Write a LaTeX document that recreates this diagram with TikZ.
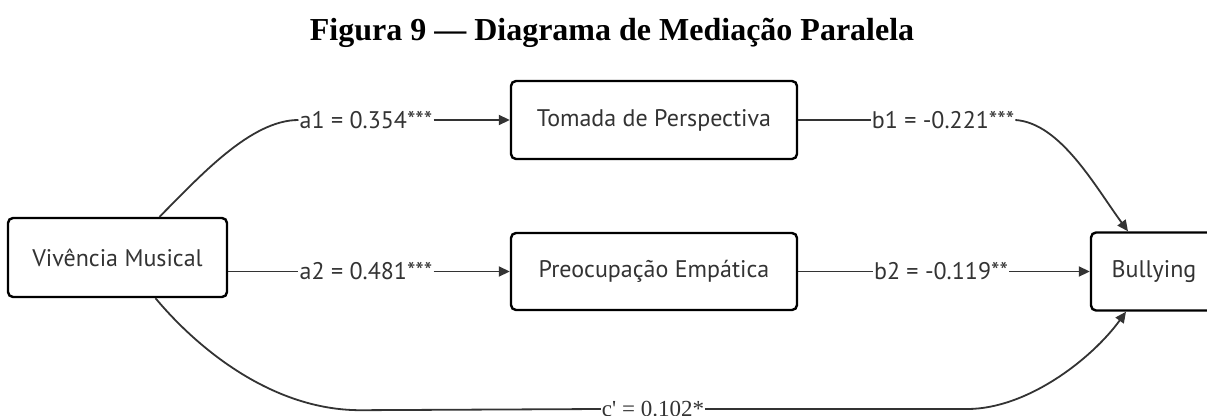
\documentclass[tikz,border=0pt]{standalone}
\usepackage{fontspec}
\setmainfont{Liberation Serif}
\setsansfont{PT Sans}
\newfontfamily\primefont{Liberation Serif}
\usetikzlibrary{arrows.meta}
\definecolor{inkgray}{HTML}{333333}

\begin{document}
\begin{tikzpicture}[x=1pt, y=-1pt,
    every node/.style={font=\sffamily\fontsize{24}{28}\selectfont, text=inkgray},
    box/.style={draw=black, line width=2.4pt, rounded corners=5pt, fill=white, minimum height=78pt},
    lbl/.style={fill=white, inner sep=1pt},
    edge/.style={draw=inkgray, line width=1.8pt},
    arr/.style={edge, -{Triangle[length=11pt,width=10pt]}}]
    \useasboundingbox (0,0) rectangle (1207,415);
    \node[font=\rmfamily\bfseries\fontsize{32}{36}\selectfont, text=black, anchor=base] (title) at (612,40) {Figura 9 — Diagrama de Mediação Paralela};
    % variaveis
    \node[box, minimum width=219pt, minimum height=79pt] (vm) at (117.5,257.5) {Vivência Musical};
    \node[box, minimum width=286pt] (tp) at (654,120) {Tomada de Perspectiva};
    \node[box, minimum width=286pt, minimum height=77pt] (pe) at (654,271.5) {Preocupação Empática};
    \node[box, minimum width=126pt] (bu) at (1154,271.5) {Bullying};
    % coeficientes
    \node[lbl] (la1) at (366,120) {a1 = 0.354***};
    \node[lbl] (la2) at (366,271.5) {a2 = 0.481***};
    \node[lbl] (lb1) at (943,120) {b1 = -0.221***};
    \node[lbl] (lb2) at (941,271.5) {b2 = -0.119**};
    \node[lbl, font=\primefont\fontsize{23}{26}\selectfont] (lc) at (653,409) {c' = 0.102*};
    % caminhos
    \draw[edge] ([xshift=42]vm.north) .. controls +(40,-40) and +(-48,0) .. (la1.west);
    \draw[arr] (la1.east) -- (tp.west);
    \draw[edge] ([yshift=-14]vm.east) -- (la2.west);
    \draw[arr] (la2.east) -- (pe.west);
    \draw[edge] (tp.east) -- (lb1.west);
    \draw[arr] (lb1.east) .. controls +(45,3) and +(-33,-45) .. ([xshift=-26]bu.north);
    \draw[edge] (pe.east) -- (lb2.west);
    \draw[arr] (lb2.east) -- (bu.west);
    \draw[edge] ([xshift=38]vm.south) .. controls +(40,48) and +(-90,0) .. ++(205,112) -- (lc.west);
    \draw[arr] (lc.east) -- ++(262,0) .. controls +(60,0) and +(-34,47) .. ([xshift=-28]bu.south);
\end{tikzpicture}
\end{document}
